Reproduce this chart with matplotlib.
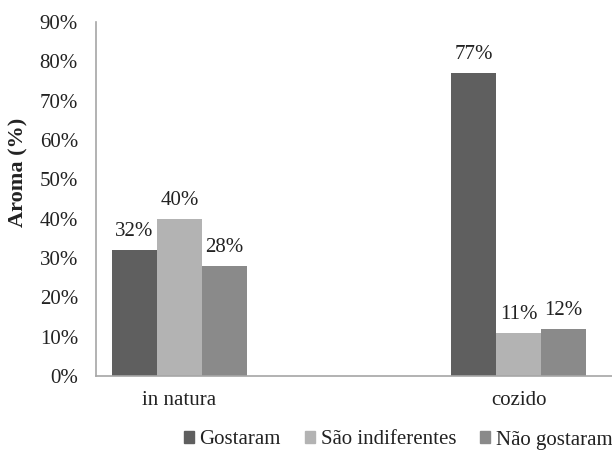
import numpy as np
import matplotlib
matplotlib.use('Agg')
from matplotlib import pyplot as plt
from matplotlib.patches import Patch

plt.rcParams['font.family'] = ['Liberation Serif', 'DejaVu Serif']

categorias = ['in natura', 'cozido']
series = ['Gostaram', 'São indiferentes', 'Não gostaram']
gostaram = [32, 77]
indiferentes = [40, 11]
nao_gostaram = [28, 12]
cores = ['#5f5f5f', '#b3b3b3', '#8a8a8a']
fs = 15

fig = plt.figure(figsize=(6.12, 4.5), dpi=100)
ax = fig.add_axes([96 / 612, 1 - 376 / 450, 1 - 96 / 612, (376 - 22) / 450])

x = np.arange(len(categorias))
w = 45 / 339
valores = [gostaram, indiferentes, nao_gostaram]
for i, (vals, cor) in enumerate(zip(valores, cores)):
    pos = x + (i - 1) * w
    ax.bar(pos, vals, width=w, color=cor, linewidth=0)
    for px, v in zip(pos, vals):
        ax.text(px, v + 2.3, f'{v}%', ha='center', va='bottom', fontsize=fs, color='#222222')

ax.set_xlim(-1.5 * w - 16 / 339, (612 - 179.5) / 339)
ax.set_ylim(0, 90)
ax.set_yticks(range(0, 91, 10))
ax.set_yticklabels([f'{t}%' for t in range(0, 91, 10)], fontsize=fs, color='#222222')
ax.set_xticks(x)
ax.set_xticklabels(categorias, fontsize=fs, color='#222222')
ax.tick_params(axis='both', length=0)
ax.tick_params(axis='y', pad=13)
ax.tick_params(axis='x', pad=11)

for s in ['top', 'right']:
    ax.spines[s].set_visible(False)
for s in ['left', 'bottom']:
    ax.spines[s].set_color('#a6a6a6')
    ax.spines[s].set_linewidth(1.2)

fig.text(18 / 612, 1 - 172 / 450, 'Aroma (%)', rotation=90, ha='center', va='center',
         fontsize=16, fontweight='bold', color='#222222')

handles = [Patch(color=c, label=s) for c, s in zip(cores, series)]
fig.legend(handles=handles, loc='center right', bbox_to_anchor=(1.031, 1 - 440 / 450),
           ncol=3, frameon=False, fontsize=fs, handlelength=0.5, handleheight=0.5,
           handletextpad=0.25, columnspacing=1.15, labelcolor='#222222')

fig.savefig('out.png', dpi=100)
